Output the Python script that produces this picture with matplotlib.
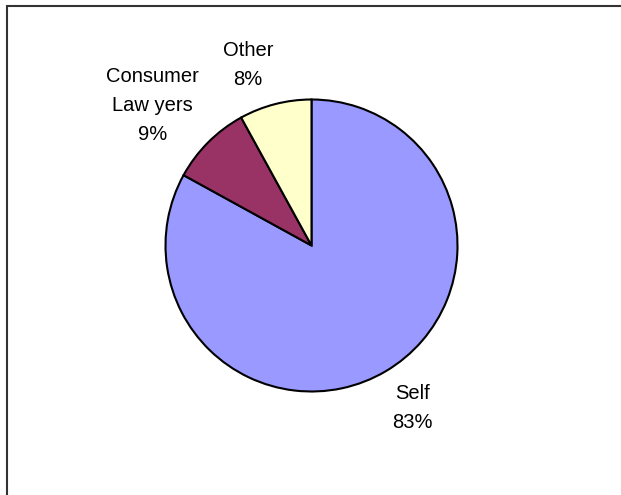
import matplotlib
matplotlib.use("Agg")
import matplotlib.pyplot as plt
from matplotlib.patches import Rectangle
import numpy as np

# data
names = ["Self", "Consumer\nLaw yers", "Other"]
values = [83, 9, 8]
colors = ["#9999FF", "#993366", "#FFFFCC"]
# label placement: distance from centre (in radii) and angle nudge (deg)
label_dist = [1.31, 1.45, 1.31]
label_shift = [1.4, 3.6, 5.0]

plt.rcParams["font.family"] = ["Liberation Sans", "DejaVu Sans"]

W, H = 621, 495
fig = plt.figure(figsize=(W / 100, H / 100), dpi=100)

# pie centre ~ (311.5, 245.5) px, radius ~146 px
cx, cy, r = 311.5, 245.5, 146
ax = fig.add_axes([(cx - r) / W, (H - cy - r) / H, 2 * r / W, 2 * r / H])
wedges, _ = ax.pie(values, colors=colors, startangle=90, counterclock=False,
                   wedgeprops=dict(edgecolor="black", linewidth=1.5))
ax.set_xlim(-1, 1)
ax.set_ylim(-1, 1)
ax.set_aspect("equal")
ax.axis("off")

total = sum(values)
for w, name, v, d, s in zip(wedges, names, values, label_dist, label_shift):
    ang = np.deg2rad((w.theta1 + w.theta2) / 2 + s)
    ax.text(d * np.cos(ang), d * np.sin(ang), f"{name}\n{round(100 * v / total)}%",
            ha="center", va="center", fontsize=14.5, linespacing=1.65,
            clip_on=False)

# chart-area border (extends past right and bottom edges)
fig.add_artist(Rectangle((6.5 / W, -0.1), 2, 1 - 6.5 / H + 0.1,
                         transform=fig.transFigure, fill=False,
                         edgecolor="#333333", linewidth=1.5))

fig.savefig("out.png", dpi=100)
